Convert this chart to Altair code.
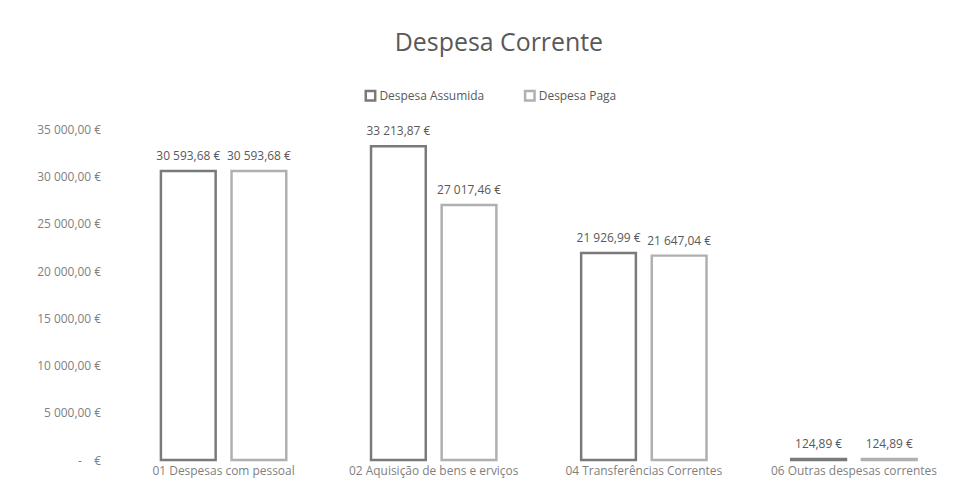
import altair as alt
import pandas as pd

categorias = [
    "01 Despesas com pessoal",
    "02 Aquisição de bens e erviços",
    "04 Transferências Correntes",
    "06 Outras despesas correntes",
]
series = ["Despesa Assumida", "Despesa Paga"]
despesa_assumida = [30593.68, 33213.87, 21926.99, 124.89]
despesa_paga = [30593.68, 27017.46, 21647.04, 124.89]
y_ticks = [0, 5000, 10000, 15000, 20000, 25000, 30000, 35000]


def fmt(v):
    return f"{v:,.2f}".replace(",", " ").replace(".", ",") + " €"


rows = []
for c, a, p in zip(categorias, despesa_assumida, despesa_paga):
    rows.append({"categoria": c, "serie": series[0], "valor": a, "rotulo": fmt(a)})
    rows.append({"categoria": c, "serie": series[1], "valor": p, "rotulo": fmt(p)})
df = pd.DataFrame(rows)

FONT = "Open Sans"
ZERO_LABEL = "-" + "\u00a0" * 4 + "€"

base = alt.Chart(df).encode(
    x=alt.X(
        "categoria:N",
        sort=categorias,
        scale=alt.Scale(paddingInner=0, paddingOuter=0),
        axis=alt.Axis(
            title=None,
            labelAngle=0,
            domain=False,
            ticks=False,
            labelPadding=5,
            labelColor="#7f7f7f",
            labelFontSize=12,
            labelFont=FONT,
        ),
    ),
    xOffset=alt.XOffset(
        "serie:N", sort=series, scale=alt.Scale(paddingInner=0.225, paddingOuter=0.6)
    ),
    y=alt.Y(
        "valor:Q",
        scale=alt.Scale(domain=[0, 35000], nice=False),
        axis=alt.Axis(
            title=None,
            values=y_ticks,
            grid=False,
            domain=False,
            ticks=False,
            labelPadding=18,
            labelColor="#7f7f7f",
            labelFontSize=12,
            labelFont=FONT,
            labelExpr="datum.value == 0 ? '" + ZERO_LABEL + "' : replace(replace(format(datum.value, ',.2f'), ',', ' '), '.', ',') + ' €'",
        ),
    ),
)

bars = base.mark_bar(fill="white", strokeWidth=2.5).encode(
    stroke=alt.Stroke(
        "serie:N",
        scale=alt.Scale(domain=series, range=["#7a7a7a", "#b0b0b0"]),
        legend=alt.Legend(
            title=None,
            orient="none",
            legendX=247,
            legendY=-40,
            direction="horizontal",
            symbolType="square",
            symbolSize=90,
            symbolStrokeWidth=2.5,
            symbolFillColor="white",
            labelFontSize=12,
            labelColor="#595959",
            labelFont=FONT,
            columnPadding=35,
            labelOffset=3,
        ),
    )
)

labels = base.mark_text(dy=-15, fontSize=12, color="#595959", font=FONT).encode(
    text="rotulo:N"
)

chart = (
    alt.layer(bars, labels)
    .properties(
        width=844,
        height=332,
        autosize=alt.AutoSizeParams(type="none"),
        padding={"left": 111, "top": 121, "right": 0, "bottom": 24},
        title=alt.Title(
            "Despesa Corrente",
            fontSize=25,
            color="#595959",
            font=FONT,
            fontWeight="normal",
            anchor="middle",
            dx=-40,
            offset=34,
        ),
    )
    .configure(font=FONT)
    .configure_view(stroke=None)
)

chart.save("out.html", embed_options={"renderer": "svg", "actions": False})
